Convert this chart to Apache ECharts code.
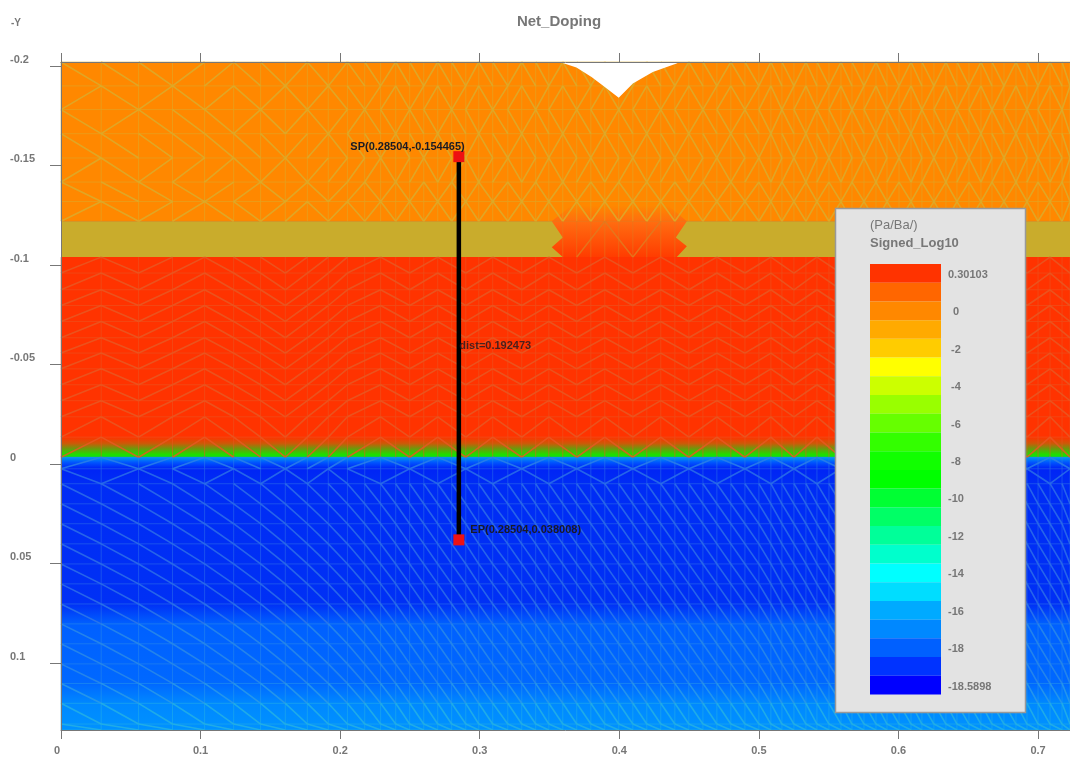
<!DOCTYPE html>
<html>
<head>
<meta charset="utf-8">
<style>
html, body { margin: 0; padding: 0; background: #fff; }
#chart { width: 1070px; height: 762px; }
</style>
<script src="https://cdn.jsdelivr.net/npm/echarts@6/dist/echarts.min.js"></script>
</head>
<body>
<div id="chart"></div>
<script>
var xMin = 0, xMax = 0.7229;
var yMin = -0.2020, yMax = 0.1335;
var xTicks = [0, 0.1, 0.2, 0.3, 0.4, 0.5, 0.6, 0.7];
var yTicks = [-0.2, -0.15, -0.1, -0.05, 0, 0.05, 0.1];

// colour scale, top to bottom
var legendColors = ['#ff3300', '#ff6600', '#ff8800', '#ffaa00', '#ffcc00', '#ffff00', '#ccff00', '#99ff00',
    '#66ff00', '#33ff00', '#11ff00', '#00ff00', '#00ff33', '#00ff66', '#00ff99', '#00ffcc', '#00ffff',
    '#00ddff', '#00aaff', '#0088ff', '#0060ff', '#0033ff', '#0000ff'];
var legendLabels = ['0.30103', '', '0', '', '-2', '', '-4', '', '-6', '', '-8', '', '-10', '', '-12', '',
    '-14', '', '-16', '', '-18', '', '-18.5898'];

// doping field down the device
var fieldY = [-0.2020, -0.1220, -0.1220, -0.1040, -0.1040, -0.0136, -0.0104, -0.0079, -0.0049, -0.0036, -0.0034,
    -0.0009, 0.0021, 0.0098, 0.0702, 0.0802, 0.1101, 0.1201, 0.1335];
var fieldColor = ['#ff8800', '#ff8800', '#c9ac2c', '#c9ac2c', '#ff3300', '#ff3300', '#cc5a08', '#70960c', '#1fdd00',
    '#10e010', '#0099ee', '#0055ff', '#0024f5', '#002cf5', '#0030f5', '#0060ff', '#0068ff', '#0088ff', '#0092ff'];

// oxide opening under the notch
var moundX = [0.3516, 0.3659, 0.4348, 0.4484, 0.4405, 0.4484, 0.4412, 0.3595, 0.3516, 0.3595];
var moundY = [-0.1220, -0.1300, -0.1300, -0.1220, -0.1139, -0.1094, -0.1040, -0.1040, -0.1089, -0.1139];
var moundColor = ['#ff8800', '#ff6a10', '#ff3c00'];

// white notch in the top surface
var notchX = [0.3573, 0.3693, 0.3801, 0.3896, 0.3996, 0.4097, 0.4240, 0.4410, 0.4434];
var notchY = [-0.2020, -0.1992, -0.1945, -0.1894, -0.1841, -0.1912, -0.1970, -0.2012, -0.2020];

// mesh lines
var meshX = [0, 0.0288, 0.0556, 0.0799, 0.1029, 0.1237, 0.1430, 0.1607, 0.1765, 0.1915, 0.2052, 0.2176, 0.2290,
    0.2398, 0.2498, 0.2599, 0.2699, 0.2799, 0.2900, 0.2993, 0.3093, 0.3201, 0.3301, 0.3401, 0.3495, 0.3595,
    0.3695, 0.3796, 0.3896, 0.3996, 0.4097, 0.4197, 0.4297, 0.4398, 0.4498, 0.4599, 0.4699, 0.4799, 0.4900,
    0.5000, 0.5086, 0.5165, 0.5251, 0.5337, 0.5416, 0.5502, 0.5588, 0.5667, 0.5753, 0.5839, 0.5918, 0.6004,
    0.6090, 0.6168, 0.6254, 0.6340, 0.6419, 0.6505, 0.6591, 0.6670, 0.6756, 0.6842, 0.6921, 0.7000, 0.7086,
    0.7172, 0.7229];
var meshY = [-0.2020, -0.1900, -0.1781, -0.1660, -0.1538, -0.1417, -0.1319, -0.1220, -0.1040, -0.0960, -0.0876,
    -0.0797, -0.0717, -0.0635, -0.0558, -0.0479, -0.0399, -0.0319, -0.0238, -0.0136, -0.0035, 0.0023, 0.0098,
    0.0199, 0.0299, 0.0400, 0.0501, 0.0601, 0.0702, 0.0802, 0.0902, 0.1003, 0.1101, 0.1201, 0.1305, 0.1335];

// diagonals per mesh row: u rises, d falls. First ten cells one by one, then the tail repeats
var redLeft = 'uduuddduuu', blueLeft = 'dddddddddd';
var meshLeft = ['ddduuddudu', 'ududududud', 'dudddududu', 'ddddddduud', 'uduuududuu', 'dddduududu', 'uduudduudu', blueLeft,
    redLeft, redLeft, redLeft, redLeft, redLeft, redLeft, redLeft, redLeft, redLeft, redLeft, redLeft, redLeft, redLeft,
    'duddududud', blueLeft, blueLeft, blueLeft, blueLeft, blueLeft, blueLeft, blueLeft, blueLeft, blueLeft, blueLeft,
    blueLeft, blueLeft, blueLeft];
var meshTail = ['ddu', 'duu', 'udd', 'ddu', 'uud', 'ud', 'du', 'ud',
    'ud', 'ud', 'ud', 'ud', 'ud', 'ud', 'ud', 'ud', 'ud', 'ud', 'ud', 'ud', 'ud',
    'du', 'd', 'd', 'd', 'd', 'd', 'd', 'd', 'd', 'd', 'd', 'd', 'd', 'd'];
var meshStep = [1, 1, 1, 1, 1, 1, 1, 2, 2, 2, 2, 2, 2, 2, 2, 2, 2, 2, 2, 2, 2, 2, 1, 1, 1, 1, 1, 1, 1, 1, 1, 1, 1, 1, 1];
var meshColor = ['#dbab2c', '#dbab2c', '#dbab2c', '#dbab2c', '#dbab2c', '#dbab2c', '#dbab2c', '#e07a20',
    '#e85822', '#e85822', '#e85822', '#e85822', '#e85822', '#e85822', '#e85822', '#e85822', '#e85822', '#e85822',
    '#e85822', '#e85822', '#2a80e8', '#2a70e8', '#2e6fe8', '#2e6fe8', '#2e6fe8', '#2e6fe8', '#2e6fe8', '#2e6fe8',
    '#2e78e8', '#2a8ae8', '#2a8ae8', '#2a8ae8', '#2a9ae8', '#24b0e4', '#24b0e4'];
var oxideRow = 7;

// cut line
var cutX = [0.28504, 0.28504];
var cutY = [-0.154465, 0.038008];
var cutLabels = ['SP(0.28504,-0.154465)', 'EP(0.28504,0.038008)'];
var distText = 'dist=0.192473';
var distY = -0.0596;

var grey = '#777777';
var fontName = '"Liberation Sans", Arial, sans-serif';

// turn the mesh lists into segments: x1, y1, x2, y2, kind (0 grid, 1 diagonal), row
function buildMesh() {
    var segs = [];
    var moundMin = moundX[7], moundMax = moundX[4];
    function inMound(x) { return x >= moundMin && x <= moundMax; }
    meshY.forEach(function (y, r) {
        if (y === meshY[oxideRow + 1]) return;
        for (var i = 0; i < meshX.length - 1; i++) {
            segs.push([meshX[i], y, meshX[i + 1], y, 0, Math.min(r, meshColor.length - 1)]);
        }
    });
    for (var r = 0; r < meshY.length - 1; r++) {
        meshX.forEach(function (x) {
            if (r === oxideRow && !inMound(x)) return;
            segs.push([x, meshY[r], x, meshY[r + 1], 0, r]);
        });
        var i = 0, n = 0;
        while (i < meshX.length - 1) {
            var left = i < 10;
            var step = left ? 1 : meshStep[r];
            var c = left ? meshLeft[r][i] : meshTail[r][n++ % meshTail[r].length];
            var j = Math.min(i + step, meshX.length - 1);
            if (r !== oxideRow || (inMound(meshX[i]) && inMound(meshX[j]))) {
                if (c === 'd') segs.push([meshX[i], meshY[r], meshX[j], meshY[r + 1], 1, r]);
                else segs.push([meshX[i], meshY[r + 1], meshX[j], meshY[r], 1, r]);
            }
            i = j;
        }
    }
    return segs;
}

function gradient(stops) {
    return new echarts.graphic.LinearGradient(0, 0, 0, 1, stops);
}

function fieldStops() {
    return fieldY.map(function (y, i) {
        return { offset: (y - yMin) / (yMax - yMin), color: fieldColor[i] };
    });
}

function polygon(api, xs, ys) {
    return xs.map(function (x, i) { return api.coord([x, ys[i]]); });
}

var myChart = echarts.init(document.getElementById('chart'), null, { renderer: 'canvas' });

var option = {
    animation: false,
    backgroundColor: '#ffffff',
    title: [
        { text: 'Net_Doping', left: 554, top: 9, textAlign: 'center',
            textStyle: { color: grey, fontFamily: fontName, fontSize: 15, fontWeight: 'bold' } },
        { text: '-Y', left: 6, top: 13,
            textStyle: { color: grey, fontFamily: fontName, fontSize: 10, fontWeight: 'bold' } }
    ],
    grid: [
        { left: 61, top: 62, width: 1009, height: 668 },
        { left: 870, top: 264, width: 71, height: 430.5 }
    ],
    xAxis: [
        {
            type: 'value', gridIndex: 0, position: 'bottom', min: xMin, max: xMax, z: 10,
            splitLine: { show: false },
            axisLine: { show: true, onZero: false, lineStyle: { color: grey } },
            axisTick: { show: true, length: 9, customValues: xTicks, lineStyle: { color: grey } },
            axisLabel: {
                customValues: xTicks, margin: 15, color: grey, fontFamily: fontName, fontSize: 11, fontWeight: 'bold',
                formatter: function (v) { return v === 0 ? '{z|0}' : String(v); },
                rich: { z: { padding: [0, 8, 0, 0], color: grey, fontFamily: fontName, fontSize: 11, fontWeight: 'bold' } }
            }
        },
        {
            type: 'value', gridIndex: 0, position: 'top', min: xMin, max: xMax, z: 10,
            splitLine: { show: false },
            axisLine: { show: true, onZero: false, lineStyle: { color: grey } },
            axisTick: { show: true, length: 9, customValues: xTicks, lineStyle: { color: grey } },
            axisLabel: { show: false }
        },
        { type: 'value', gridIndex: 1, min: 0, max: 1, show: false }
    ],
    yAxis: [
        {
            type: 'value', gridIndex: 0, inverse: true, min: yMin, max: yMax, z: 10,
            splitLine: { show: false },
            axisLine: { show: true, onZero: false, lineStyle: { color: grey } },
            axisTick: { show: true, length: 11, customValues: yTicks, lineStyle: { color: grey } },
            axisLabel: {
                customValues: yTicks, margin: 51, align: 'left', verticalAlign: 'bottom', padding: [0, 0, 1, 0],
                color: grey, fontFamily: fontName, fontSize: 11, fontWeight: 'bold'
            }
        },
        {
            type: 'category', gridIndex: 1, inverse: true, position: 'right', data: legendLabels, z: 10,
            axisLine: { show: false },
            axisTick: { show: false },
            splitLine: { show: false },
            axisLabel: {
                interval: 0, margin: 7, align: 'left', hideOverlap: false, padding: [3, 0, 0, 0],
                color: grey, fontFamily: fontName, fontSize: 11, fontWeight: 'bold',
                formatter: function (v) {
                    if (v === '0') return '{a|0}';
                    if (v.length === 2) return '{b|' + v + '}';
                    return v;
                },
                rich: {
                    a: { padding: [0, 0, 0, 5], color: grey, fontFamily: fontName, fontSize: 11, fontWeight: 'bold' },
                    b: { padding: [0, 0, 0, 3], color: grey, fontFamily: fontName, fontSize: 11, fontWeight: 'bold' }
                }
            }
        }
    ],
    graphic: [
        { type: 'rect', z: 5, shape: { x: 835.5, y: 208.5, width: 190, height: 504 },
            style: { fill: '#e3e3e3', stroke: '#999999', lineWidth: 1.5 } },
        { type: 'text', z: 6, x: 870, y: 219,
            style: { text: '(Pa/Ba/)', fill: grey, font: '13px ' + fontName } },
        { type: 'text', z: 6, x: 870, y: 237,
            style: { text: 'Signed_Log10', fill: grey, font: 'bold 13px ' + fontName } }
    ],
    series: [
        {
            // doping bands
            type: 'custom', xAxisIndex: 0, yAxisIndex: 0, z: 1, silent: true,
            data: [[xMin, yMin, xMax, yMax]],
            encode: { x: [0, 2], y: [1, 3] },
            renderItem: function (params, api) {
                var a = api.coord([api.value(0), api.value(1)]);
                var b = api.coord([api.value(2), api.value(3)]);
                return { type: 'rect', shape: { x: a[0], y: a[1], width: b[0] - a[0], height: b[1] - a[1] },
                    style: { fill: gradient(fieldStops()) } };
            }
        },
        {
            // opening in the oxide
            type: 'custom', xAxisIndex: 0, yAxisIndex: 0, z: 2, silent: true,
            data: moundX.map(function (x, i) { return [x, moundY[i]]; }),
            encode: { x: 0, y: 1 },
            renderItem: function (params, api) {
                if (params.dataIndex !== 0) return null;
                return { type: 'polygon', shape: { points: polygon(api, moundX, moundY) },
                    style: { fill: gradient([{ offset: 0, color: moundColor[0] }, { offset: 0.35, color: moundColor[1] },
                        { offset: 1, color: moundColor[2] }]) } };
            }
        },
        {
            type: 'custom', xAxisIndex: 0, yAxisIndex: 0, z: 3, silent: true,
            data: buildMesh(),
            encode: { x: [0, 2], y: [1, 3] },
            renderItem: function (params, api) {
                var a = api.coord([api.value(0), api.value(1)]);
                var b = api.coord([api.value(2), api.value(3)]);
                var diag = api.value(4) === 1;
                return { type: 'line', shape: { x1: a[0], y1: a[1], x2: b[0], y2: b[1] },
                    style: { stroke: meshColor[api.value(5)], lineWidth: diag ? 1.6 : 1, opacity: diag ? 0.85 : 0.55 } };
            }
        },
        {
            type: 'custom', xAxisIndex: 0, yAxisIndex: 0, z: 4, silent: true,
            data: notchX.map(function (x, i) { return [x, notchY[i]]; }),
            encode: { x: 0, y: 1 },
            renderItem: function (params, api) {
                if (params.dataIndex !== 0) return null;
                return { type: 'polygon', shape: { points: polygon(api, notchX, notchY) }, style: { fill: '#ffffff' } };
            }
        },
        {
            type: 'bar', xAxisIndex: 2, yAxisIndex: 1, z: 6, silent: true, barWidth: '100%',
            data: legendColors.map(function (c) { return { value: 1, itemStyle: { color: c } }; })
        },
        {
            type: 'line', xAxisIndex: 0, yAxisIndex: 0, z: 7, silent: true,
            symbol: 'rect', symbolSize: 11,
            lineStyle: { color: '#000000', width: 4.5 },
            itemStyle: { color: '#ee1111' },
            data: [
                { value: [cutX[0], cutY[0]], label: { show: true, formatter: cutLabels[0], position: [-103, -10] } },
                { value: [cutX[1], cutY[1]], label: { show: true, formatter: cutLabels[1], position: [17, -10] } }
            ],
            label: { color: '#1a1a24', fontFamily: fontName, fontSize: 11, fontWeight: 'bold' }
        },
        {
            type: 'scatter', xAxisIndex: 0, yAxisIndex: 0, z: 7, silent: true, symbolSize: 1,
            itemStyle: { color: 'rgba(0,0,0,0)' },
            data: [[cutX[0], distY]],
            label: { show: true, formatter: distText, position: 'right', distance: 0,
                color: '#1a1a24', fontFamily: fontName, fontSize: 11, fontWeight: 'bold' }
        }
    ]
};
myChart.setOption(option);
</script>
</body>
</html>
